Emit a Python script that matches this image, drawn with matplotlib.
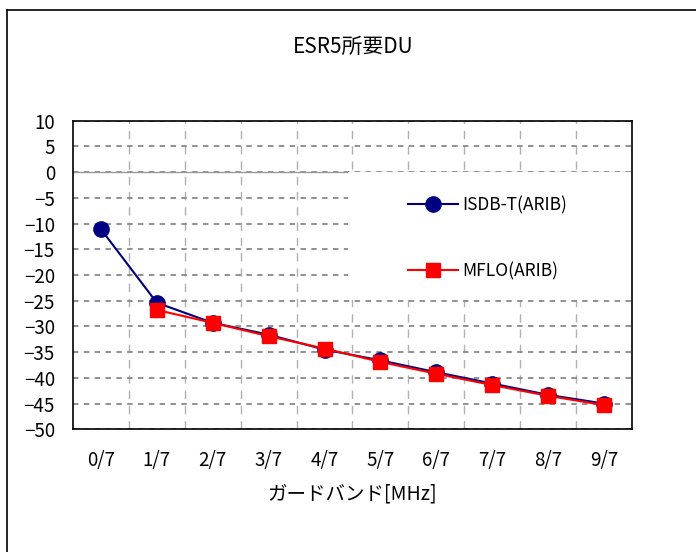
import numpy as np
import matplotlib
matplotlib.use("Agg")
import matplotlib.pyplot as plt
from matplotlib.lines import Line2D
from matplotlib.patches import Rectangle

plt.rcParams['font.family'] = ['Noto Sans CJK JP', 'DejaVu Sans']

# data
bands = ["0/7", "1/7", "2/7", "3/7", "4/7", "5/7", "6/7", "7/7", "8/7", "9/7"]
isdb = [-11.1, -25.4, -29.3, -31.6, -34.5, -36.6, -38.9, -41.1, -43.3, -45.0]
mflo = [None, -26.8, -29.3, -31.9, -34.3, -36.9, -39.2, -41.4, -43.5, -45.3]
yticks = list(range(-50, 15, 5))

W, H = 696, 552
fig = plt.figure(figsize=(W / 100, H / 100), dpi=100)
ax = fig.add_axes([73 / W, 1 - 429.3 / H, (632 - 73) / W, (429.3 - 120.7) / H])

x = np.arange(len(bands))
mflo_arr = np.array([np.nan if v is None else v for v in mflo])

ax.plot(x, isdb, color="#000080", lw=1.5, marker="o", ms=11,
        label="ISDB-T(ARIB)", zorder=5)
ax.plot(x, mflo_arr, color="#ff0000", lw=1.5, marker="s", ms=10,
        label="MFLO(ARIB)", zorder=6)

ax.set_xlim(-0.5, len(bands) - 0.5)
ax.set_ylim(-50, 10)
ax.set_yticks(yticks)
ax.set_xticks(x)
ax.set_xticklabels(bands)
ax.set_xticks(np.arange(0.5, len(bands) - 1, 1), minor=True)

ax.tick_params(axis="both", which="both", length=0, labelsize=13.5)
ax.tick_params(axis="y", pad=13)
ax.tick_params(axis="x", pad=15)

# grid: horizontal short dark dashes, vertical long light dashes
ax.grid(axis="y", which="major", color="#888888", lw=1.3, ls=(0, (3, 3)))
ax.grid(axis="x", which="minor", color="#b0b0b0", lw=1.0, ls=(0, (6, 5)))
ax.grid(axis="x", which="major", visible=False)
ax.axhline(0, color="#999999", lw=1.0, zorder=1.5)
ax.set_axisbelow(True)

for s in ax.spines.values():
    s.set_color("black")
    s.set_linewidth(1.2)

# white area behind legend
ax.add_patch(Rectangle((0.492, 0.419), 0.508, 0.415, transform=ax.transAxes,
                       facecolor="white", edgecolor="none", zorder=2))

ax.legend(loc="upper left", bbox_to_anchor=(0.599, 0.755), frameon=False,
          borderpad=0, borderaxespad=0, handlelength=2.9, handletextpad=0.25,
          labelspacing=2.75, fontsize=12.5)

ax.set_xlabel("ガードバンド[MHz]", fontsize=14, labelpad=9)
fig.text(353 / W, 1 - 47 / H, "ESR5所要DU", ha="center", va="center", fontsize=15)

# outer chart frame
fig.add_artist(Line2D([6.5 / W, 6.5 / W], [0, 1 - 10 / H], color="black", lw=1.2,
                      transform=fig.transFigure))
fig.add_artist(Line2D([6.5 / W, 1], [1 - 10 / H, 1 - 10 / H], color="black", lw=1.2,
                      transform=fig.transFigure))

fig.savefig("out.png", dpi=100)
